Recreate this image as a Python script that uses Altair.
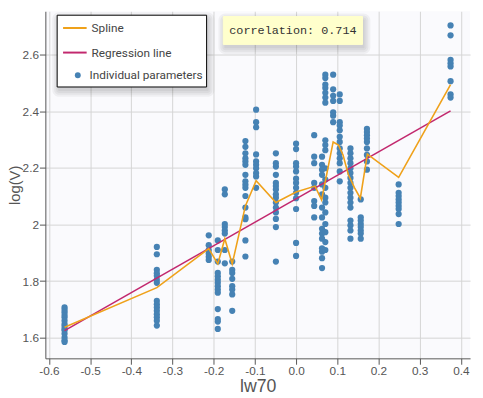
import altair as alt
import pandas as pd

# ---- data ----
col_x = [-0.562, -0.338, -0.212, -0.190, -0.173, -0.155, -0.123, -0.097, -0.049, 0.0,
         0.044, 0.063, 0.071, 0.090, 0.106, 0.132, 0.157, 0.172, 0.249, 0.375]
col_y = [
    [1.707, 1.698, 1.690, 1.680, 1.672, 1.660, 1.648, 1.641, 1.632, 1.626, 1.614, 1.600, 1.590, 1.585],
    [1.921, 1.895, 1.840, 1.828, 1.819, 1.805, 1.794, 1.730, 1.718, 1.707, 1.695, 1.683, 1.672, 1.660, 1.643],
    [1.962, 1.927, 1.910, 1.898, 1.886, 1.875],
    [1.944, 1.910, 1.869, 1.829, 1.817, 1.805, 1.794, 1.782, 1.770, 1.759, 1.701, 1.666, 1.657, 1.631],
    [2.124, 2.107, 2.002, 1.991, 1.979, 1.968, 1.910, 1.863],
    [1.869, 1.840, 1.829, 1.808, 1.782, 1.770, 1.753, 1.695],
    [2.295, 2.275, 2.252, 2.234, 2.223, 2.211, 2.176, 2.153, 2.141, 2.130, 2.101, 2.060, 2.025, 2.019, 1.944, 1.887],
    [2.406, 2.362, 2.344, 2.248, 2.223, 2.211, 2.199, 2.182, 2.170, 2.130],
    [2.252, 2.217, 2.205, 2.176, 2.147, 2.136, 2.124, 2.107, 2.095, 2.078, 2.060, 2.043, 2.020, 1.991, 1.869],
    [2.286, 2.267, 2.217, 2.205, 2.188, 2.162, 2.147, 2.130, 2.112, 2.093, 2.055, 1.935, 1.889],
    [2.316, 2.240, 2.217, 2.147, 2.130, 2.083, 2.066, 2.025],
    [2.240, 2.211, 2.194, 2.176, 2.142, 2.107, 2.060, 2.025, 1.985, 1.968, 1.950, 1.916, 1.904, 1.881, 1.846],
    [2.530, 2.518, 2.495, 2.483, 2.466, 2.449, 2.431, 2.298, 2.281, 2.263, 2.199, 2.159, 2.130, 2.095,
     2.078, 2.043, 2.002, 1.973, 1.938, 1.910],
    [2.530, 2.478, 2.455, 2.437, 2.397, 2.385, 2.362],
    [2.460, 2.437, 2.362, 2.350, 2.333, 2.310, 2.292, 2.269, 2.252, 2.234, 2.217, 2.188, 2.153],
    [2.269, 2.252, 2.234, 2.217, 2.199, 2.182, 2.165, 2.147, 2.130, 2.112, 2.095, 2.078, 2.060, 2.014,
     1.997, 1.979, 1.950],
    [2.089, 2.025, 2.014, 2.002, 1.991, 1.979, 1.968, 1.950],
    [2.338, 2.327, 2.316, 2.304, 2.292, 2.269, 2.246, 2.223, 2.194],
    [2.142, 2.112, 2.101, 2.089, 2.078, 2.066, 2.055, 2.037, 2.002],
    [2.704, 2.669, 2.582, 2.570, 2.559, 2.507, 2.460, 2.449],
]

spline_x = [-0.562, -0.338, -0.212, -0.190, -0.173, -0.155, -0.123, -0.097, -0.049, 0.0,
            0.046, 0.062, 0.090, 0.103, 0.114, 0.127, 0.142, 0.156, 0.165, 0.173, 0.249, 0.375]
spline_y = [1.637, 1.777, 1.915, 1.861, 1.950, 1.861, 2.066, 2.155, 2.078, 2.115,
            2.136, 2.087, 2.292, 2.281, 2.246, 2.176, 2.130, 2.093, 2.176, 2.249, 2.167, 2.495]

reg_x = [-0.562, 0.375]
reg_y = [1.625, 2.402]

x_ticks = [-0.6, -0.5, -0.4, -0.3, -0.2, -0.1, 0.0, 0.1, 0.2, 0.3, 0.4]
y_ticks = [1.6, 1.8, 2.0, 2.2, 2.4, 2.6]

line_series = ["Spline", "Regression line"]
line_colors = ["#EFA11A", "#C2286E"]
point_series = ["Individual parameters"]
point_color = "#4682B4"
corr_text = "correlation: 0.714"

# ---- tables ----
pts = pd.DataFrame(
    [(x, y) for x, ys in zip(col_x, col_y) for y in ys], columns=["x", "y"]
)
pts["s"] = point_series[0]
spl = pd.DataFrame({"x": spline_x, "y": spline_y, "s": line_series[0]})
reg = pd.DataFrame({"x": reg_x, "y": reg_y, "s": line_series[1]})

xdom = [-0.6086, 0.4224]
ydom = [1.527, 2.754]

X = alt.X("x:Q", scale=alt.Scale(domain=xdom, nice=False, zero=False),
          axis=alt.Axis(values=x_ticks, title="lw70",
                        labelExpr="replace(format(datum.value, '.1f'), '\u2212', '-')"))
Y = alt.Y("y:Q", scale=alt.Scale(domain=ydom, nice=False, zero=False),
          axis=alt.Axis(values=y_ticks, title="log(V)", format="~g"))

common_legend = dict(
    title=None, orient="none", padding=0,
    labelFont="Roboto", labelFontSize=12, labelColor="#444",
)
color = alt.Color(
    "s:N", scale=alt.Scale(domain=line_series, range=line_colors),
    legend=alt.Legend(legendX=17, legendY=4, symbolType="stroke", symbolSize=576,
                      symbolStrokeWidth=2, labelOffset=4, rowPadding=6, **common_legend),
)
shape = alt.Shape(
    "s:N", scale=alt.Scale(domain=point_series, range=["circle"]),
    legend=alt.Legend(legendX=27, legendY=59, symbolSize=36, symbolFillColor=point_color,
                      symbolStrokeWidth=0, labelOffset=6, **common_legend),
)

points = alt.Chart(pts).mark_point(size=40, filled=True, opacity=1, color=point_color).encode(
    x=X, y=Y, shape=shape)
reg_line = alt.Chart(reg).mark_line(strokeWidth=1.6).encode(x=X, y=Y, color=color)
spl_line = alt.Chart(spl).mark_line(strokeWidth=1.6).encode(x=X, y=Y, color=color)

# annotation boxes (legend frame and correlation label) with soft shadows
one = pd.DataFrame({"a": [0]})
boxes = [(12, 164, 4, 77, "white", "black"), (181, 322.6, 5.3, 33.7, "#FFFFCC", "#FFFFCC")]
deco = []
for x0, x1, y0, y1, fill, stroke in boxes:
    for i in range(4):
        d = 1 + i * 2
        deco.append(alt.Chart(one).mark_rect(color="#000", opacity=0.045, cornerRadius=d).encode(
            x=alt.value(x0 - d + 2), x2=alt.value(x1 + d + 1),
            y=alt.value(y0 - d + 4), y2=alt.value(y1 + d + 3)))
for x0, x1, y0, y1, fill, stroke in boxes:
    deco.append(alt.Chart(one).mark_rect(fill=fill, stroke=stroke, strokeWidth=1).encode(
        x=alt.value(x0), x2=alt.value(x1), y=alt.value(y0), y2=alt.value(y1)))

corr_lbl = alt.Chart(pd.DataFrame({"t": [corr_text]})).mark_text(
    font="Liberation Mono", fontSize=12, color="#333", align="center", baseline="middle"
).encode(x=alt.value(251.8), y=alt.value(19), text="t:N")

chart = alt.layer(
    points, reg_line, spl_line, *deco, corr_lbl
).properties(
    width=432, height=353,
    autosize=alt.AutoSizeParams(type="none"),
    padding={"left": 38, "top": 0, "right": 5, "bottom": 37},
).configure_view(
    fill="#FAFAFD", strokeWidth=0
).configure_axis(
    gridColor="#d4d4d4", gridWidth=1,
    domainColor="#555", tickColor="#555", tickSize=6,
    labelFont="Liberation Sans", labelFontSize=12, labelColor="#555", labelPadding=1,
    titleFont="Liberation Sans", titleColor="#555", titleFontWeight="normal",
).configure_axisX(
    titleFontSize=18, titlePadding=2,
).configure_axisY(
    titleFontSize=15, titlePadding=0,
)

chart.save("out.html", embed_options={"renderer": "svg", "actions": False})
